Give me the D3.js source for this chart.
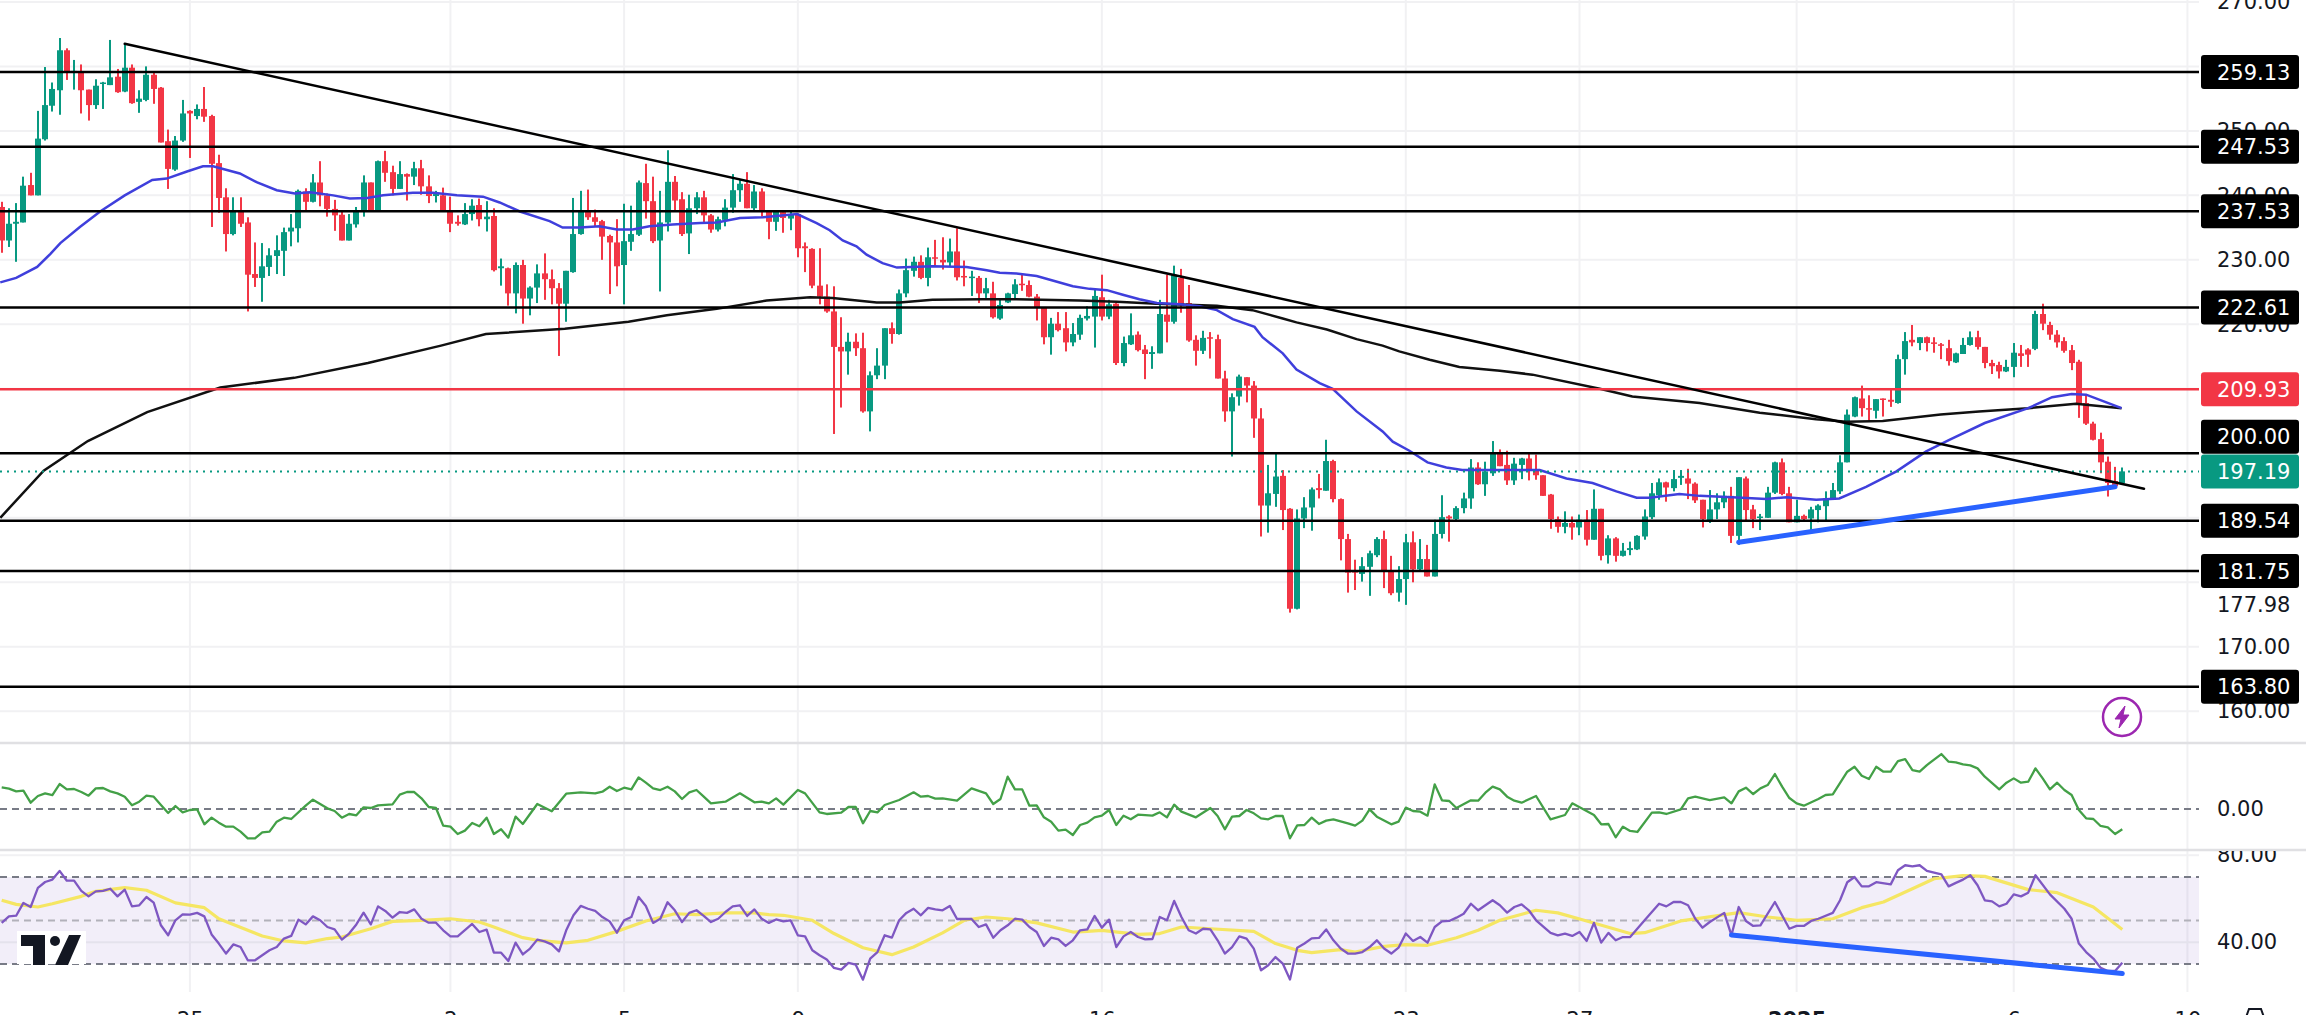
<!DOCTYPE html>
<html>
  <head>
    <meta charset="utf-8">
    <script src="https://d3js.org/d3.v7.min.js"></script>
    <style>
      html, body { margin: 0; padding: 0; background: #fff; overflow: hidden; }
      svg { display: block; font-family: "DejaVu Sans", sans-serif; }
    </style>
  </head>
  <body>
    <div id="container"></div>

    <script type="text/javascript">
      // Candles, one entry per bar
      var opens = [
        238.2,233.0,235.6,235.8,241.6,240.0,248.7,253.9,256.3,262.5,
        259.1,259.2,256.4,254.0,257.3,257.1,258.4,256.1,259.8,254.5,
        254.8,258.7,256.7,248.4,244.0,248.5,253.1,252.3,253.4,252.3,
        245.0,239.7,234.0,237.5,235.8,227.8,227.2,228.9,230.6,231.4,
        234.4,234.9,240.6,239.0,242.0,240.0,237.9,237.0,233.0,235.5,
        237.5,242.0,237.6,245.3,243.6,241.0,243.3,242.9,244.2,241.4,
        239.9,240.0,237.6,235.9,235.5,237.1,238.5,236.3,236.8,228.7,
        228.7,224.8,229.2,224.0,225.7,227.9,227.0,225.6,223.2,228.1,
        234.0,237.6,236.6,236.0,233.7,232.7,229.2,232.8,233.9,241.9,
        239.1,233.0,235.8,242.1,239.4,234.1,238.0,239.7,236.9,234.7,
        236.2,238.1,240.8,241.8,238.0,240.6,237.5,235.9,237.4,236.4,
        237.1,232.1,231.7,226.0,224.3,222.0,216.5,215.8,217.3,216.3,
        206.5,212.1,213.6,219.4,218.5,224.8,228.3,229.7,227.2,230.4,
        230.0,229.6,231.3,227.5,227.2,227.2,224.8,224.8,220.9,223.4,
        224.7,226.3,226.1,224.3,222.6,218.0,220.1,219.4,217.2,218.4,
        220.9,221.2,224.2,221.2,223.2,214.0,216.9,218.4,216.1,215.4,
        215.5,221.5,220.4,227.2,223.3,217.6,215.9,218.0,217.7,211.6,
        206.5,208.8,211.8,210.5,205.4,191.9,193.7,196.5,191.4,175.9,
        189.9,191.6,194.6,194.2,198.8,192.9,186.7,181.8,181.3,182.4,
        184.2,186.7,181.9,178.4,180.5,186.2,182.0,183.6,180.9,187.5,
        190.2,189.8,191.5,193.0,197.8,195.2,196.9,200.1,198.2,195.8,
        198.2,199.2,197.4,196.6,193.6,189.8,188.6,189.2,188.5,189.7,
        186.6,191.4,184.2,186.8,184.1,185.0,185.1,187.1,190.1,193.5,
        195.5,194.6,196.2,196.1,195.3,192.8,189.6,191.3,192.4,193.4,
        187.2,196.1,191.3,190.0,190.0,193.9,198.6,193.8,189.3,190.3,
        189.9,191.2,191.8,193.0,194.1,198.6,205.7,208.5,207.0,206.6,
        208.5,208.3,207.8,214.6,217.6,217.1,218.0,217.2,216.9,216.3,
        214.1,215.4,216.8,218.0,216.5,214.0,213.7,212.7,213.4,215.5,
        216.1,216.2,221.6,219.9,218.4,217.4,216.0,214.2,207.8,204.6,
        202.2,198.7,195.7,195.4
      ];
      var closes = [
        233.0,235.6,235.9,241.5,240.0,248.8,254.0,256.5,262.5,259.2,
        259.3,256.3,254.0,257.0,257.5,258.3,256.0,259.8,254.3,255.0,
        258.7,256.5,248.2,244.1,248.5,252.7,252.7,253.4,252.2,244.9,
        239.6,234.0,237.5,235.6,227.7,227.2,229.0,230.7,231.5,234.3,
        235.0,240.7,239.0,242.0,240.0,237.9,236.9,233.0,235.6,237.5,
        242.0,237.6,245.3,243.5,241.0,243.3,242.9,244.2,241.4,239.9,
        240.2,237.6,235.6,235.6,237.1,238.4,236.3,236.7,228.4,229.0,
        224.8,229.2,224.0,225.7,227.9,227.0,225.6,223.2,228.3,234.0,
        237.7,236.6,235.9,233.6,232.7,229.0,232.9,234.0,242.0,239.1,
        232.9,235.8,242.1,239.2,234.0,238.0,239.7,236.9,234.7,236.3,
        238.1,240.8,241.8,238.0,240.6,237.7,235.9,237.5,236.5,237.0,
        231.8,231.8,226.0,224.3,222.0,216.5,215.8,217.3,216.3,206.5,
        212.1,213.6,219.4,218.5,224.8,228.4,229.7,227.2,230.4,230.2,
        229.6,231.3,227.3,227.3,227.4,224.8,225.6,221.1,223.0,224.8,
        226.2,226.1,224.3,222.6,218.0,220.1,219.1,217.2,218.5,221.0,
        221.3,224.4,221.2,223.1,214.0,217.1,218.3,216.0,215.4,215.7,
        221.6,220.4,227.7,223.0,217.5,215.9,217.9,217.9,211.6,206.5,
        208.7,211.9,210.5,205.4,191.9,193.8,196.4,191.2,175.9,189.9,
        191.6,194.4,194.3,198.8,192.9,186.7,181.5,181.5,182.5,184.5,
        186.7,181.8,178.3,180.5,186.2,182.0,183.6,180.9,187.5,190.1,
        189.9,191.5,193.0,197.8,195.2,197.2,200.0,198.0,195.8,198.4,
        199.2,197.4,196.6,193.4,189.8,188.6,189.2,188.5,189.7,186.6,
        191.4,184.1,186.8,184.1,184.9,185.3,187.2,190.2,193.8,195.5,
        194.7,196.0,196.5,195.3,192.7,189.8,191.3,192.4,193.4,187.2,
        196.3,191.2,189.8,190.2,193.9,198.6,193.7,189.3,190.3,189.8,
        191.3,191.9,193.0,194.3,198.6,206.0,208.7,207.0,206.8,208.4,
        208.3,208.0,214.6,217.4,217.2,218.0,217.1,217.1,216.7,214.3,
        215.5,216.8,218.0,216.5,214.0,213.5,212.7,213.4,215.6,215.1,
        215.3,221.6,220.1,218.4,217.2,215.9,214.0,207.6,204.6,202.1,
        198.6,195.4,194.9,197.2
      ];
      var highs = [
        239.0,238.0,238.8,242.9,243.5,253.1,259.9,257.5,264.4,262.8,
        261.0,260.3,256.4,258.0,257.6,264.1,259.6,263.6,260.3,256.3,
        260.0,259.2,256.8,250.2,249.2,254.8,253.2,254.1,256.8,252.5,
        246.3,241.1,239.7,239.7,236.6,232.7,232.6,231.8,233.8,235.0,
        237.1,240.9,241.1,243.3,245.3,240.3,239.3,237.5,237.1,238.2,
        243.1,242.0,245.4,246.9,244.6,245.3,243.4,245.2,245.5,243.1,
        240.7,241.2,239.8,236.9,238.8,239.4,239.5,239.1,238.0,230.2,
        228.8,229.6,230.0,225.9,229.3,231.0,228.5,226.4,228.3,239.6,
        240.7,240.9,237.8,236.2,233.9,236.3,238.7,238.4,242.3,244.9,
        242.9,240.7,247.0,243.0,240.5,240.1,240.5,240.7,237.1,236.7,
        239.4,243.3,242.4,243.6,241.6,241.1,237.7,237.7,237.6,237.6,
        237.2,232.7,231.8,231.8,226.2,225.9,221.1,218.7,218.6,218.7,
        212.7,216.3,219.4,220.3,225.4,230.2,230.5,230.7,231.9,233.1,
        233.5,233.3,234.9,229.9,228.3,227.5,227.2,226.6,224.0,224.9,
        227.0,227.7,226.8,224.7,222.6,221.0,221.9,221.9,220.2,221.5,
        222.8,225.6,227.7,223.8,223.3,218.1,221.7,218.9,216.8,216.6,
        223.8,227.7,229.1,228.6,226.1,218.3,219.0,218.8,218.4,212.8,
        209.3,212.2,211.8,211.2,207.0,198.2,199.9,197.4,191.5,191.3,
        193.2,194.7,196.8,202.1,199.0,193.0,187.5,183.5,183.9,184.9,
        187.0,188.0,184.1,182.5,187.5,187.9,186.7,185.8,189.7,193.5,
        190.4,191.8,193.9,199.1,198.6,198.7,201.9,200.6,200.4,199.3,
        199.3,200.1,199.8,196.6,193.7,190.2,191.0,190.2,190.5,191.2,
        194.4,191.4,187.3,187.0,186.1,186.3,187.3,191.3,195.4,196.1,
        195.6,197.4,197.4,197.6,195.5,192.8,194.3,193.8,194.1,194.8,
        196.3,196.4,192.0,190.6,194.8,198.7,199.2,194.8,192.8,190.5,
        191.7,192.1,194.1,195.4,199.7,206.8,208.8,210.5,209.0,208.4,
        208.5,210.1,215.3,218.8,219.9,218.0,218.1,218.0,217.1,217.6,
        215.6,217.9,218.9,219.0,216.5,214.5,214.2,214.5,217.1,216.8,
        216.3,222.1,223.2,220.4,219.1,218.0,216.8,214.5,209.2,204.9,
        203.2,199.5,197.9,197.8
      ];
      var lows = [
        231.1,232.0,229.7,235.8,240.0,240.0,248.5,253.0,252.5,257.9,
        256.4,252.7,251.6,253.4,253.4,257.1,255.9,256.0,254.2,252.8,
        254.6,254.2,248.2,241.0,243.8,248.3,245.8,251.8,251.4,235.1,
        237.3,231.3,233.8,235.1,222.0,225.8,223.5,227.5,227.8,227.5,
        232.1,232.7,237.6,238.9,238.3,236.7,234.5,233.0,233.0,235.0,
        236.7,237.6,237.5,242.1,240.0,241.0,239.2,241.6,240.1,238.8,
        238.9,237.6,234.3,235.3,235.4,236.1,235.2,234.4,228.2,226.0,
        222.9,221.7,220.1,221.4,223.3,223.8,223.1,215.1,220.4,228.0,
        233.9,236.2,235.2,230.0,224.7,225.9,223.1,231.4,233.7,236.4,
        232.6,225.1,234.4,237.7,233.7,230.9,237.1,235.7,234.2,234.4,
        235.2,237.3,239.0,238.0,237.7,236.7,233.2,234.5,234.2,234.6,
        230.4,228.1,225.6,223.1,221.8,203.0,207.1,212.2,215.1,206.3,
        203.4,211.5,211.5,217.0,218.4,224.2,227.4,227.0,225.9,229.0,
        228.5,229.0,226.8,225.9,224.4,223.3,224.1,220.9,220.7,223.3,
        223.8,225.2,224.2,220.6,216.9,215.3,218.9,215.8,216.6,217.6,
        220.6,216.4,220.6,220.8,213.7,213.5,216.8,215.8,211.5,213.1,
        215.5,217.2,220.1,221.8,217.3,213.6,215.4,214.7,211.6,204.9,
        199.5,207.4,207.9,202.4,187.1,187.7,191.7,188.1,175.3,175.8,
        188.4,188.0,193.0,194.2,192.4,183.4,178.4,178.8,180.1,177.9,
        183.9,179.1,178.0,177.0,176.5,180.0,181.9,180.9,180.9,186.8,
        186.3,189.4,190.7,191.4,195.1,193.4,196.5,198.0,195.1,195.1,
        196.0,195.8,195.9,193.4,188.3,187.7,187.6,186.6,187.3,185.7,
        186.6,183.4,182.9,183.2,184.0,184.2,185.0,186.6,189.8,192.8,
        192.5,194.1,195.1,192.9,192.3,188.5,189.2,189.8,191.5,186.1,
        185.8,189.4,188.4,188.1,190.0,193.7,193.5,189.3,189.3,189.4,
        188.0,189.3,189.4,192.8,193.7,198.6,205.6,205.7,204.9,205.4,
        205.7,207.2,207.7,212.2,216.6,216.0,215.8,215.6,214.6,213.6,
        214.0,215.4,216.7,216.1,213.2,212.3,211.6,212.6,211.8,213.4,
        213.4,216.0,219.1,217.6,216.4,215.6,212.9,205.5,204.4,202.0,
        196.9,193.3,194.6,195.1
      ];

      // Moving averages: bar number and value at the vertices
      var ma50Bars = [
        -0.2,2.0,4.9,6.7,8.1,10.8,13.6,17.0,20.8,22.8,25.6,27.8,29.2,32.9,35.3,38.0,40.5,42.6,45.8,48.1,
        50.5,52.7,56.8,59.6,62.9,66.5,68.8,71.6,75.7,77.5,79.9,82.6,85.0,87.2,89.5,92.7,96.5,98.8,102.0,105.2,
        109.9,112.6,114.4,116.2,118.1,119.5,121.7,123.7,128.6,133.3,136.1,137.9,140.2,143.0,145.2,148.0,150.3,152.7,154.9,157.2,
        159.6,162.8,165.5,167.9,170.1,173.1,174.2,177.0,178.9,182.1,183.9,187.2,190.8,192.2,194.5,197.0,199.6,201.8,207.0,212.5,
        216.2,219.8,223.1,225.9,227.7,231.8,234.6,239.1,243.8,246.6,250.7,253.9,257.6,261.8,265.9,269.1,274.0,280.0,283.3,286.0,
        288.0,290.8,292.9
      ];
      var ma50Values = [
        226.5,227.2,228.9,230.9,232.6,235.1,237.5,240.0,242.4,242.6,243.7,244.5,244.5,243.4,242.0,240.8,240.3,240.5,240.0,239.5,
        239.6,240.0,240.4,240.4,240.0,239.8,238.9,237.5,236.0,235.0,235.0,235.2,234.7,234.7,235.2,235.5,235.7,235.8,236.5,236.6,
        237.1,235.7,234.6,233.0,232.1,230.8,229.5,228.8,229.0,228.9,228.4,228.0,227.9,227.5,226.8,225.9,225.5,225.3,224.6,223.9,
        223.3,223.1,222.8,222.2,220.8,219.6,218.0,215.5,213.0,210.9,210.0,206.5,203.4,201.8,200.4,198.6,197.8,197.4,197.4,197.4,
        196.1,195.4,194.1,193.1,193.1,193.7,193.4,193.2,192.9,193.2,192.8,193.0,194.8,197.2,200.3,202.1,204.7,207.0,208.7,209.2,
        209.1,207.9,207.0
      ];
      var ma200Bars = [
        -0.2,5.8,11.9,20.1,30.2,40.4,50.6,60.7,66.9,77.8,86.6,91.9,98.8,105.7,111.7,114.8,120.9,124.1,128.6,135.5,
        140.2,148.9,154.1,159.6,167.9,172.8,177.0,178.9,183.1,187.2,190.8,193.1,197.3,201.4,207.0,211.5,220.8,225.3,234.6,242.9,
        250.7,254.9,259.9,267.9,273.2,280.0,286.6,292.9
      ];
      var ma200Values = [
        190.0,197.3,201.9,206.4,210.2,211.7,214.0,216.7,218.5,219.3,220.4,221.4,222.4,223.7,224.2,224.1,223.4,223.4,223.8,223.9,
        223.9,223.7,223.5,223.2,222.9,222.2,220.9,220.3,219.2,217.7,216.7,215.8,214.5,213.4,212.8,212.2,210.0,208.8,207.8,206.3,
        205.3,204.9,205.0,206.0,206.5,207.0,207.7,207.0
      ];

      // Middle panel, unlabelled units around zero
      var momentumBars = [
        0,1,2,3,4,5,6,7,8,9,10,11,12,13,14,15,16,17,18,19,20,21,22,23,24,25,26,27,28,29,30,31,32,33,34,35,36,37,38,39,40,
        42,43,45,46,47,48,49,50,51,52,54,55,56,57,58,59,60,61,62,63,64,65,66,67,68,69,70,71,72,74,76,78,80,82,83,84,85,86,87,88,89,90,91,92,93,94,95,96,97,98,100,102,104,105,
        106,107,108,110,111,113,114,116,117,118,119,120,121,122,124,126,127,128,129,130,132,134,136,137,138,139,140,141,142,143,144,145,146,147,148,149,150,151,152,153,154,155,156,157,159,160,161,162,163,165,167,168,169,170,171,172,173,174,175,176,177,178,179,180,181,182,183,184,186,187,188,189,190,192,193,194,195,196,197,198,199,200,201,203,204,205,206,207,208,209,210,212,
        214,216,217,220,221,222,223,224,225,226,228,229,230,232,233,234,236,238,239,240,241,242,243,244,245,246,247,248,249,251,252,253,255,256,257,258,259,260,261,262,263,264,265,266,268,269,270,271,272,273,274,276,277,278,279,280,281,282,283,284,285,286,287,288,289,290,291,292,293
      ];
      var momentumValues = [
        65,61,53,55,19,39,47,42,75,59,60,51,40,62,63,53,47,37,11,22,40,37,12,-12,9,-10,-3,-1,-46,-26,-41,-53,-53,-68,-88,-88,-70,-68,-38,-26,-30,
        10,28,2,-6,-26,-15,-19,5,3,11,14,43,51,51,32,6,3,-50,-53,-75,-65,-42,-52,-26,-75,-61,-86,-23,-45,15,-7,46,50,47,52,67,54,64,59,95,79,62,57,67,53,30,50,57,37,17,22,47,20,22,
        17,32,13,57,47,-10,-15,-11,6,6,-43,-6,-10,12,27,50,37,39,31,32,25,62,47,15,30,97,59,59,10,11,-25,-38,-65,-62,-78,-48,-41,-25,-20,-3,-48,-20,-31,-17,-20,-10,-25,13,-8,-25,3,-21,-61,-23,-21,-3,-13,-28,-31,-21,-21,-88,-49,-48,-26,-45,-35,-31,-43,-50,-35,-1,-23,-46,-38,4,-6,-8,-20,74,26,24,3,26,25,49,67,59,37,25,19,39,
        -31,-18,17,-18,-46,-45,-85,-53,-66,-69,-11,-10,-15,-1,32,37,27,35,17,53,64,45,62,72,105,67,33,17,10,30,42,44,112,127,100,90,127,112,112,144,150,117,112,132,165,142,140,134,131,122,97,59,79,92,79,82,122,92,59,79,57,42,-3,-28,-30,-51,-55,-75,-61
      ];

      // RSI and its moving average
      var rsiBars = [
        0,1,2,3,4,5,6,7,8,9,10,11,12,13,14,15,16,17,18,19,20,21,22,23,24,25,26,27,28,29,30,31,32,33,34,35,36,37,38,39,40,41,42,43,44,45,46,47,48,49,50,51,52,53,54,55,56,57,58,59,60,61,62,63,65,66,67,68,69,70,71,72,73,74,75,76,77,78,79,80,81,82,83,84,85,86,87,88,89,90,91,92,93,94,95,96,97,98,99,100,101,102,103,104,105,
        106,107,108,109,110,111,112,113,114,115,116,117,118,119,120,121,122,123,124,125,126,127,128,129,130,131,132,134,135,136,137,138,139,140,141,142,143,144,145,146,147,148,149,150,151,152,153,154,155,156,157,158,159,160,161,162,163,164,165,166,167,168,169,170,171,172,173,174,175,176,177,178,179,180,181,182,183,184,185,186,187,188,189,190,191,192,193,194,195,196,197,198,199,200,201,202,203,204,205,206,207,208,209,210,211,212,
        214,215,216,217,218,219,220,221,222,223,224,225,227,229,230,231,232,233,234,235,236,238,239,240,241,242,243,245,247,248,249,250,251,253,254,255,256,257,258,259,261,262,263,264,265,266,268,269,270,271,272,273,274,275,276,277,278,279,280,281,283,285,286,287,288,289,290,291,292,293
      ];
      var rsiValues = [
        48.9,51.9,52.2,58.1,56.2,65.0,67.7,68.8,72.8,68.3,68.3,63.6,61.1,63.4,63.6,64.6,61.1,64.2,56.5,57.0,60.8,58.2,47.8,43.2,50.1,52.8,52.7,53.5,51.9,43.6,39.4,34.8,39.0,37.8,31.7,31.7,34.0,36.3,37.8,41.7,42.9,50.4,48.2,51.9,50.1,47.0,45.9,41.2,44.0,48.2,53.6,48.2,56.5,54.4,51.3,53.9,53.5,55.1,50.8,49.0,49.0,45.5,42.7,42.7,48.4,44.7,45.8,35.2,35.2,31.4,39.8,34.4,37.1,41.2,40.4,39.0,35.8,45.5,52.4,56.7,55.4,54.4,51.6,49.6,44.4,50.1,51.6,60.8,56.7,48.9,50.8,58.4,54.7,49.3,53.5,54.7,52.1,49.3,50.8,53.9,56.5,57.0,52.1,55.1,50.8,
        48.9,50.5,49.6,50.1,43.2,42.7,36.3,34.0,32.1,28.2,27.4,30.5,29.7,22.8,32.5,35.5,43.2,42.1,50.1,53.5,55.4,52.4,55.8,55.1,54.7,56.7,50.7,50.7,47.0,48.2,42.1,45.5,47.8,50.8,50.4,47.0,44.7,38.3,42.1,41.3,38.3,40.9,45.5,45.9,52.1,46.7,50.4,37.8,42.7,44.7,42.4,41.3,41.5,51.6,50.1,59.0,51.6,45.5,44.0,46.2,45.9,40.9,34.8,37.8,42.7,41.7,37.1,27.1,29.4,33.2,30.2,22.9,37.5,39.4,41.8,42.0,45.9,40.9,37.1,34.8,34.8,35.5,37.8,40.9,37.1,34.8,37.5,44.0,40.6,42.4,39.8,47.0,49.6,49.8,51.3,53.1,57.7,54.7,57.0,59.3,57.0,53.6,56.2,57.4,54.7,50.1,
        44.3,43.2,44.0,42.9,44.7,40.6,48.9,39.8,44.3,40.9,42.4,42.4,50.1,57.7,56.5,58.5,58.5,57.0,50.8,46.7,49.3,53.5,43.2,56.2,49.8,47.5,47.8,58.5,46.2,47.5,47.5,49.8,50.8,53.5,59.3,67.6,70.0,65.7,65.7,67.6,66.6,73.1,75.4,74.9,75.4,72.8,71.2,65.7,67.3,68.8,70.8,66.2,59.3,58.8,56.5,57.7,62.0,61.1,62.8,70.8,62.0,55.4,50.8,39.4,35.5,32.5,28.3,26.8,26.8,30.6
      ];
      var rsiMaBars = [
        0,2,5,7,11,13,17,20,24,28,30,34,36,39,42,45,47,51,54,58,62,66,68,72,74,78,81,85,89,93,96,100,104,106,
        108,112,115,119,123,126,130,133,136,139,143,148,150,152,157,160,163,167,173,176,179,181,185,187,191,194,197,201,204,207,212,
        215,219,225,227,232,235,240,244,248,253,257,260,264,267,271,274,280,284,289,293
      ];
      var rsiMaValues = [
        59.3,57.4,56.2,57.7,61.1,63.4,65.1,63.9,58.1,55.9,50.8,45.5,42.9,40.6,39.7,41.7,42.4,46.2,49.6,50.1,50.8,49.3,47.0,42.1,40.9,39.7,40.9,45.0,49.8,53.1,52.7,53.5,53.5,52.7,
        52.4,50.1,44.0,37.5,34.3,37.8,44.3,50.1,51.6,50.8,48.9,44.7,45.0,45.5,43.6,44.0,47.0,46.2,45.0,39.4,36.3,35.2,36.6,35.5,38.1,38.9,38.6,42.1,45.5,50.1,54.7,
        53.5,49.8,44.0,44.4,49.8,51.2,53.6,51.6,50.1,50.8,55.9,58.5,64.6,69.2,70.6,70.3,64.2,62.8,56.2,45.9
      ];

      // Drawn levels and their axis tags
      var levelPrices = [259.13, 247.53, 237.53, 222.61, 209.93, 200.00, 189.54, 181.75, 163.80];
      var levelTagAt = [259.13, 247.53, 237.53, 222.61, 209.93, 202.55, 189.54, 181.75, 163.80];
      var lastPrice = 197.19;

      // Hand-drawn trendlines: [bar, value]
      var downTrend = [[17.0, 263.5], [296.0, 194.5]];
      var supportTrend = [[240.0, 186.2], [292.0, 194.8]];
      var rsiTrend = [[239.0, 43.3], [293.0, 25.6]];

      var priceGrid = [270, 260, 250, 240, 230, 220, 210, 200, 190, 180, 170, 160];
      var priceTicks = [270, 250, 240, 230, 220, 170, 160];
      var rsiTicks = [80, 40];
      var timeTicks = [26, 62, 86, 110, 152, 194, 218, 248, 278, 302];
      var timeLabels = ["25", "2", "5", "9", "16", "23", "27", "2025", "6", "10"];

      var width = 2306,
          height = 1015,
          plotRight = 2199,
          axisX = 2217;

      var UP = "#089981", DOWN = "#f23645", GRID = "#f1f1f3", DASH = "#787b86";

      var svg = d3.select("#container").append("svg")
        .attr("width", width)
        .attr("height", height);

      var xBar = d3.scaleLinear().domain([0, opens.length - 1]).range([1.7, 2122.3]);
      var yPrice = d3.scaleLinear().domain([259.13, 181.75]).range([72, 571]);
      var yRsi = d3.scaleLinear().domain([70, 30]).range([877, 964]);
      var yMom = d3.scaleLinear().domain([100, -100]).range([775.7, 842.3]);

      function pathFrom(xs, ys, yScale) {
        return d3.line()
          .x(function(d) { return xBar(d); })
          .y(function(d, i) { return yScale(ys[i]); })(xs);
      }

      function segment(pts, yScale, color, w) {
        svg.append("line")
          .attr("x1", xBar(pts[0][0])).attr("y1", yScale(pts[0][1]))
          .attr("x2", xBar(pts[1][0])).attr("y2", yScale(pts[1][1]))
          .attr("stroke", color).attr("stroke-width", w)
          .attr("stroke-linecap", "round");
      }

      function hline(y, color, w, dash) {
        svg.append("line")
          .attr("x1", 0).attr("x2", plotRight)
          .attr("y1", y).attr("y2", y)
          .attr("stroke", color).attr("stroke-width", w)
          .attr("stroke-dasharray", dash || null);
      }

      // Grid
      svg.append("g").selectAll("line").data(timeTicks).enter().append("line")
        .attr("x1", xBar).attr("x2", xBar)
        .attr("y1", 0).attr("y2", 992)
        .attr("stroke", GRID).attr("stroke-width", 2);
      priceGrid.forEach(function(p) { hline(yPrice(p), GRID, 2); });

      // Pane separators
      [743, 850].forEach(function(y) {
        svg.append("line").attr("x1", 0).attr("x2", width).attr("y1", y).attr("y2", y)
          .attr("stroke", "#e0e0e3").attr("stroke-width", 2.5);
      });

      // Candles
      var candles = svg.append("g").selectAll("g")
        .data(opens).enter().append("g")
        .attr("fill", function(d, i) { return closes[i] >= d ? UP : DOWN; });
      candles.append("rect")
        .attr("x", function(d, i) { return Math.round(xBar(i)) - 1; })
        .attr("width", 2)
        .attr("y", function(d, i) { return yPrice(highs[i]); })
        .attr("height", function(d, i) { return yPrice(lows[i]) - yPrice(highs[i]); });
      candles.append("rect")
        .attr("x", function(d, i) { return Math.round(xBar(i)) - 3; })
        .attr("width", 6)
        .attr("y", function(d, i) { return yPrice(Math.max(d, closes[i])); })
        .attr("height", function(d, i) { return Math.max(1.5, Math.abs(yPrice(d) - yPrice(closes[i]))); });

      // Moving averages
      svg.append("path").attr("d", pathFrom(ma200Bars, ma200Values, yPrice))
        .attr("fill", "none").attr("stroke", "#111").attr("stroke-width", 2.5);
      svg.append("path").attr("d", pathFrom(ma50Bars, ma50Values, yPrice))
        .attr("fill", "none").attr("stroke", "#3f3fdc").attr("stroke-width", 2.5);

      // Levels, price line, trendlines
      levelPrices.forEach(function(p) {
        hline(yPrice(p), p === 209.93 ? DOWN : "#000", 2.5);
      });
      hline(yPrice(lastPrice), UP, 2, "2 5");
      segment(downTrend, yPrice, "#000", 2.5);
      segment(supportTrend, yPrice, "#2962ff", 5);

      // Purple alert badge
      var badge = svg.append("g").attr("transform", "translate(2122,717)");
      badge.append("circle").attr("r", 19)
        .attr("fill", "#fff").attr("stroke", "#9c27b0").attr("stroke-width", 2.5);
      badge.append("path").attr("d", "M3,-11 L-7,2 L-1,2 L-3,11 L7,-2 L1,-2 Z")
        .attr("fill", "#9c27b0").attr("stroke", "#9c27b0").attr("stroke-width", 1)
        .attr("stroke-linejoin", "round");

      // Middle panel
      hline(yMom(0), DASH, 2, "7 5");
      svg.append("path").attr("d", pathFrom(momentumBars, momentumValues, yMom))
        .attr("fill", "none").attr("stroke", "#43a047").attr("stroke-width", 2.3)
        .attr("stroke-linejoin", "round");

      // RSI panel
      svg.append("rect")
        .attr("x", 0).attr("width", plotRight)
        .attr("y", yRsi(70)).attr("height", yRsi(30) - yRsi(70))
        .attr("fill", "#7e57c2").attr("fill-opacity", 0.1);
      hline(yRsi(80), GRID, 2);
      hline(yRsi(40), "#e4e2ec", 2);
      hline(yRsi(70), DASH, 2, "7 5");
      hline(yRsi(50), "#b2b1ba", 2, "7 5");
      hline(yRsi(30), DASH, 2, "7 5");
      svg.append("path").attr("d", pathFrom(rsiMaBars, rsiMaValues, yRsi))
        .attr("fill", "none").attr("stroke", "#f5e663").attr("stroke-width", 3.2)
        .attr("stroke-linejoin", "round");
      svg.append("path").attr("d", pathFrom(rsiBars, rsiValues, yRsi))
        .attr("fill", "none").attr("stroke", "#7e57c2").attr("stroke-width", 2.3)
        .attr("stroke-linejoin", "round");
      segment(rsiTrend, yRsi, "#2962ff", 5);

      // TradingView mark
      var logo = svg.append("g");
      logo.append("rect").attr("x", 17).attr("y", 931).attr("width", 69).attr("height", 33).attr("fill", "#fff");
      logo.append("path").attr("d", "M21,935 H45 V965 H33 V946 H21 Z").attr("fill", "#131722");
      logo.append("circle").attr("cx", 55).attr("cy", 941).attr("r", 5).attr("fill", "#131722");
      logo.append("path").attr("d", "M69,935 H81 L68,965 H55 Z").attr("fill", "#131722");

      // Axes
      svg.append("clipPath").attr("id", "rsi-axis-clip").append("rect")
        .attr("x", axisX - 5).attr("y", 851).attr("width", 100).attr("height", 120);

      function styleAxis(g) {
        g.select(".domain").remove();
        g.selectAll("text")
          .attr("font-size", 21)
          .attr("fill", "#131722")
          .attr("font-family", '"DejaVu Sans", sans-serif');
      }

      svg.append("g")
        .attr("transform", "translate(" + axisX + ",0)")
        .call(d3.axisRight(yPrice).tickValues(priceTicks).tickSize(0).tickPadding(0).tickFormat(d3.format(".2f")))
        .call(styleAxis);
      svg.append("g")
        .attr("transform", "translate(" + axisX + ",0)")
        .call(d3.axisRight(yMom).tickValues([0]).tickSize(0).tickPadding(0).tickFormat(d3.format(".2f")))
        .call(styleAxis);
      svg.append("g")
        .attr("clip-path", "url(#rsi-axis-clip)")
        .append("g")
        .attr("transform", "translate(" + axisX + ",0)")
        .call(d3.axisRight(yRsi).tickValues(rsiTicks).tickSize(0).tickPadding(0).tickFormat(d3.format(".2f")))
        .call(styleAxis);
      svg.append("g")
        .attr("transform", "translate(0,1012)")
        .call(d3.axisBottom(xBar).tickValues(timeTicks).tickSize(0).tickPadding(0)
          .tickFormat(function(d, i) { return timeLabels[i]; }))
        .call(styleAxis)
        .selectAll("text").attr("font-weight", function(d, i) { return timeLabels[i] === "2025" ? "bold" : null; });

      // The plain label sitting just under the 181.75 tag
      svg.append("text")
        .attr("x", axisX).attr("y", yPrice(176.5)).attr("dy", "0.36em")
        .attr("font-size", 21).attr("fill", "#131722")
        .text("177.98");

      // Axis tags
      function tag(center, label, color) {
        svg.append("rect")
          .attr("x", 2201).attr("y", center - 17)
          .attr("width", 98).attr("height", 34).attr("rx", 3)
          .attr("fill", color);
        svg.append("text")
          .attr("x", axisX).attr("y", center).attr("dy", "0.36em")
          .attr("font-size", 21).attr("fill", "#fff")
          .text(label);
      }
      levelPrices.forEach(function(p, i) {
        tag(yPrice(levelTagAt[i]), p.toFixed(2), p === 209.93 ? DOWN : "#000");
      });
      tag(yPrice(lastPrice), lastPrice.toFixed(2), UP);

      // Corner tool icon, only its top shows
      svg.append("path").attr("d", "M2245,1020 L2249,1009 H2261 L2265,1020")
        .attr("fill", "none").attr("stroke", "#131722").attr("stroke-width", 2);
    </script>
  </body>
</html>
